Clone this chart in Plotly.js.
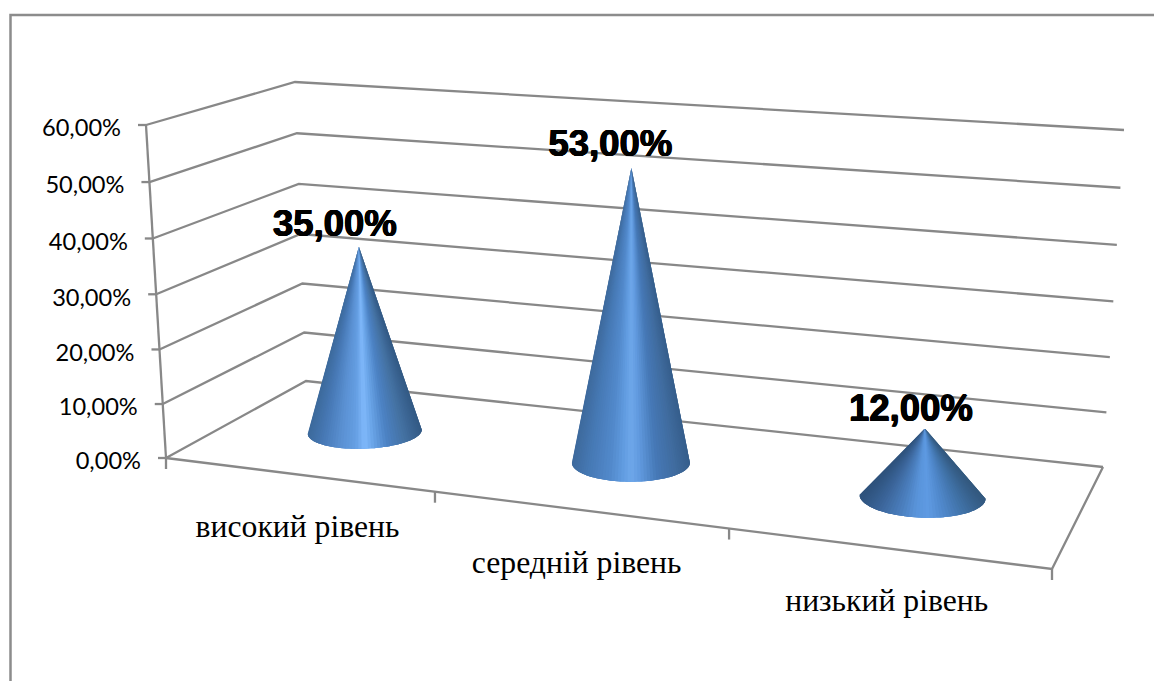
<!DOCTYPE html>
<html><head><meta charset="utf-8">
<script src="https://cdn.plot.ly/plotly-3.0.1.min.js"></script>
<style>html,body{margin:0;padding:0;background:#fff}#c{width:1154px;height:681px}</style>
</head><body><div id="c"></div>
<script>
// ---- data ----
const categories = ['високий рівень', 'середній рівень', 'низький рівень'];
const values = [35, 53, 12];
const valueLabels = ['35,00%', '53,00%', '12,00%'];
const tickValues = [0, 10, 20, 30, 40, 50, 60];
const tickLabels = ['0,00%', '10,00%', '20,00%', '30,00%', '40,00%', '50,00%', '60,00%'];
const axisMax = 60;

// ---- oblique view of the 3-D chart box (pixel-scaled cartesian axes) ----
const floorFront = [[166, 458], [1052, 569]], floorBack = [[306, 381], [1103, 467]];
const topFront = [[146, 125], [1068, 187]], topBack = [[295, 82], [1124, 130]];
const lerp = (a, b, t) => a + (b - a) * t;
const lerp2 = (p, t) => [lerp(p[0][0], p[1][0], t), lerp(p[0][1], p[1][1], t)];
const warpU = u => u / (u + 1.147 * (1 - u));
const warpZ = z => z / (z + 1.034 * (1 - z));
function project(u, d, v) {
  const t = warpU(u), z = warpZ(v / axisMax);
  const f0 = lerp2(floorFront, t), b0 = lerp2(floorBack, t), f1 = lerp2(topFront, t), b1 = lerp2(topBack, t);
  const lo = [lerp(f0[0], b0[0], d), lerp(f0[1], b0[1], d)], hi = [lerp(f1[0], b1[0], d), lerp(f1[1], b1[1], d)];
  return [lerp(lo[0], hi[0], z), lerp(lo[1], hi[1], z)];
}
const GRID = '#888888';
const traces = [];
const line = (pts, w = 2.3, c = GRID) => traces.push({ type: 'scatter', mode: 'lines', x: pts.map(p => p[0]), y: pts.map(p => p[1]), line: { color: c, width: w }, hoverinfo: 'skip' });

// chart frame
line([[10.5, 681], [10.5, 15], [1154, 15]], 2.5, '#8c8c8c');
// gridlines on the two walls
tickValues.forEach(v => line([project(0, 0, v), project(0, 1, v), project(1, 1, v)]));
// floor, axis, ticks
line([project(0, 0, 0), project(1, 0, 0), project(1, 1, 0)]);
line([project(0, 0, 0), project(0, 0, axisMax)]);
tickValues.forEach(v => { const p = project(0, 0, v); line([[p[0] - 8, p[1]], p]); });
[0, 1 / 3, 2 / 3, 1].forEach(u => { const p = project(u, 0, 0); line([p, [p[0], p[1] + 11]]); });

// ---- cones ----
const coneDepth = 0.53;
const radiusX = [57, 59, 63], radiusY = [17, 19, 21], tilt = [-2, 0, 2];
const shading = [
  [[0, '#3d6a9c'], [.12, '#4677b3'], [.3, '#5b92d4'], [.42, '#659fe3'], [.5, '#80b9fb'], [.58, '#68a3e6'], [.7, '#4c82c4'], [.85, '#4572a3'], [1, '#335a85']],
  [[0, '#3e6a9d'], [.15, '#477ab6'], [.32, '#5289cb'], [.42, '#5f9ade'], [.5, '#6ea7ea'], [.58, '#6099de'], [.72, '#4679b7'], [.88, '#406c9f'], [1, '#365e8c']],
  [[0, '#2e527c'], [.15, '#3b659a'], [.32, '#4b7fbe'], [.45, '#5a95dc'], [.55, '#5e9ae2'], [.68, '#4f87ca'], [.82, '#4173a9'], [1, '#33597f']]
];
const hex = c => [1, 3, 5].map(i => parseInt(c.substr(i, 2), 16));
function shade(stops, s) {
  for (let i = 1; i < stops.length; i++) if (s <= stops[i][0]) {
    const k = (s - stops[i - 1][0]) / (stops[i][0] - stops[i - 1][0]);
    const a = hex(stops[i - 1][1]), b = hex(stops[i][1]);
    return 'rgb(' + a.map((x, j) => Math.round(lerp(x, b[j], k))).join(',') + ')';
  }
  return stops[stops.length - 1][1];
}
const apexes = [];
values.forEach((val, i) => {
  const u = (i + 0.5) / categories.length;
  const apex = project(u, coneDepth, val), base = project(u, coneDepth, 0);
  apexes.push(apex);
  const N = 56, rim = th => [base[0] - radiusX[i] * Math.cos(th), base[1] + radiusY[i] * Math.sin(th) - tilt[i] * Math.cos(th)];
  for (let k = 0; k < N; k++) {
    const m = Math.PI * (k + 0.5) / N;
    const c = shade(shading[i], (1 - Math.cos(m)) / 2);
    const arc = [];
    for (let j = k; j <= Math.min(k + 3, N); j++) arc.push(rim(Math.PI * j / N));
    const pts = [apex, ...arc, apex];
    traces.push({ type: 'scatter', mode: 'none', x: pts.map(p => p[0]), y: pts.map(p => p[1]), fill: 'toself', fillcolor: c, hoverinfo: 'skip' });
  }
});

// ---- text ----
traces.push({ type: 'scatter', mode: 'text', x: tickValues.map(v => project(0, 0, v)[0] - 25), y: tickValues.map(v => project(0, 0, v)[1] + 5.5), text: tickLabels, textposition: 'middle left', textfont: { family: 'Lato', size: 23.6, color: '#000' }, hoverinfo: 'skip', cliponaxis: false });
traces.push({ type: 'scatter', mode: 'text', x: categories.map((_, i) => project((i + .5) / 3, 0, 0)[0] - (i === 1 ? 2 : 0)), y: categories.map((_, i) => project((i + .5) / 3, 0, 0)[1] + 55), text: categories, textposition: 'middle center', textfont: { family: 'Liberation Serif', size: 31.7, color: '#000' }, hoverinfo: 'skip', cliponaxis: false });
const labelDx = [-24, -21, -14], labelDy = [-20, -21, -17];
traces.push({ type: 'scatter', mode: 'text', x: apexes.map((p, i) => p[0] + labelDx[i]), y: apexes.map((p, i) => p[1] + labelDy[i]), text: valueLabels, textposition: 'middle center', textfont: { family: 'Liberation Sans', size: 36.5, weight: 700, color: '#000', shadow: '0.6px 0 0 #000, -0.6px 0 0 #000, 0 0.4px 0 #000, 0 -0.4px 0 #000' }, hoverinfo: 'skip', cliponaxis: false });

Plotly.newPlot('c', traces, {
  width: 1154, height: 681, margin: { l: 0, r: 0, t: 0, b: 0 }, showlegend: false,
  paper_bgcolor: '#fff', plot_bgcolor: '#fff',
  xaxis: { range: [0, 1154], visible: false, fixedrange: true },
  yaxis: { range: [681, 0], visible: false, fixedrange: true }
}, { displayModeBar: false, staticPlot: true });
</script></body></html>
